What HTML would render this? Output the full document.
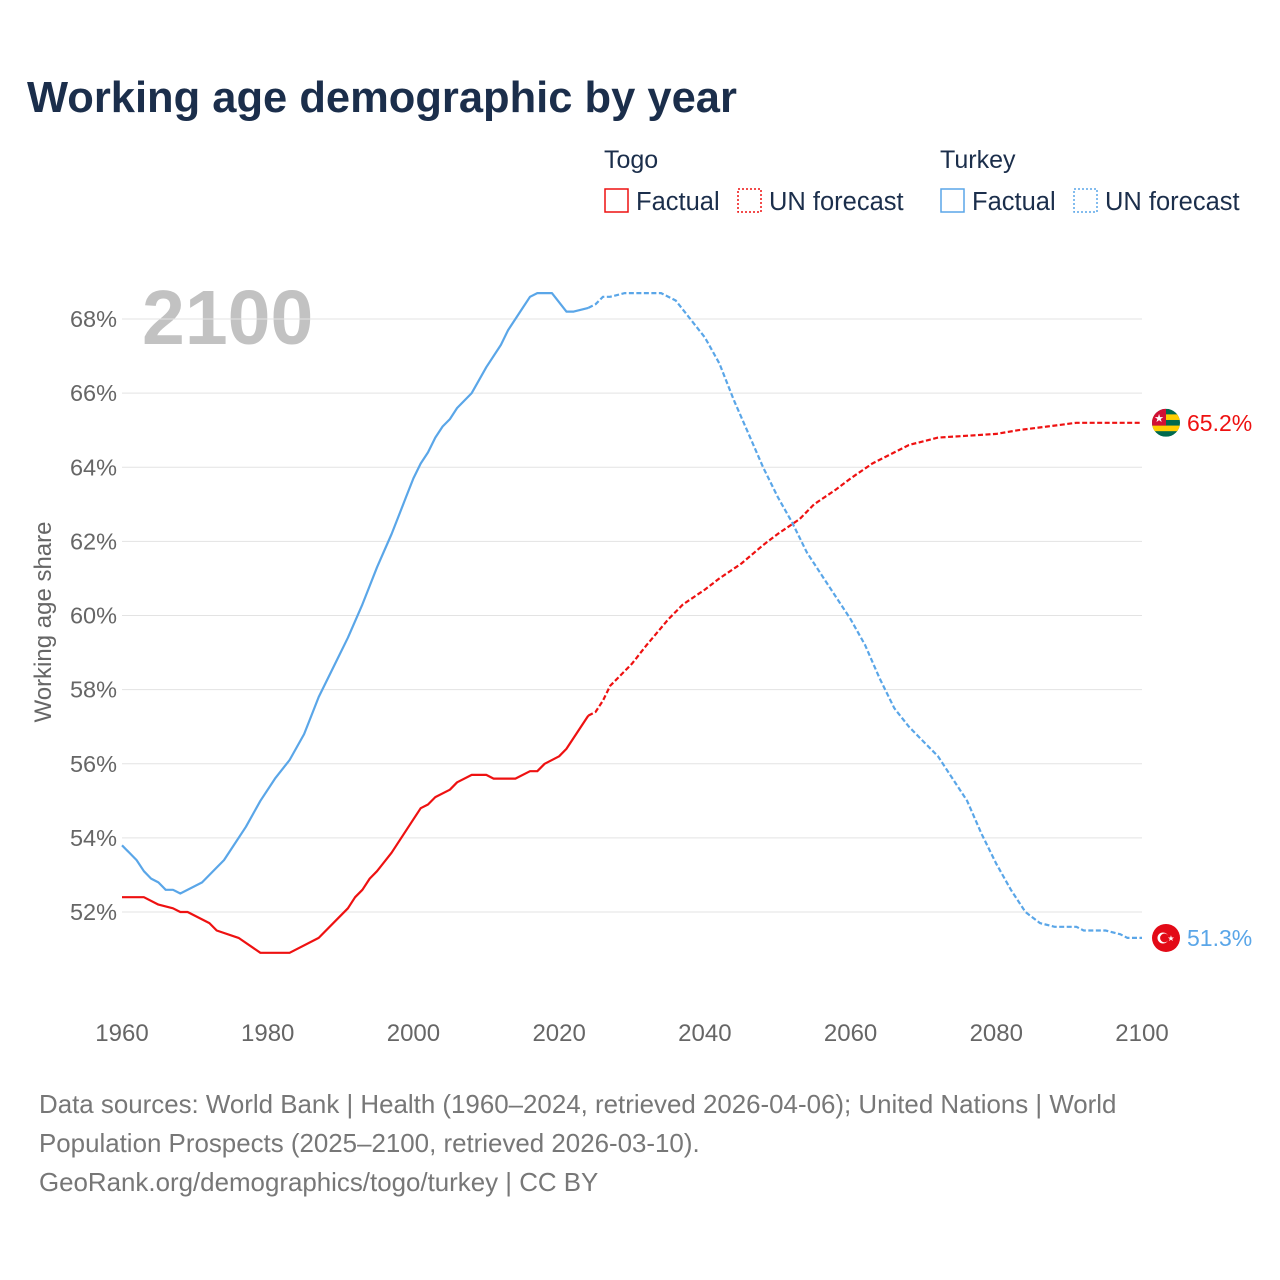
<!DOCTYPE html>
<html><head><meta charset="utf-8">
<style>
body{margin:0;background:#fff;font-family:"Liberation Sans",sans-serif;}
#wrap{position:relative;width:1280px;height:1280px;overflow:hidden;}
</style></head>
<body>
<div id="wrap">
<svg id="chart" width="1280" height="1280">
<text x="27" y="112" font-size="43.5" font-weight="bold" fill="#1b2e4b">Working age demographic by year</text>
<g>
<text x="604" y="168" font-size="25" fill="#1b2e4b">Togo</text>
<rect x="605" y="189" width="23" height="23" fill="none" stroke="#ee1111" stroke-width="1.5"/>
<text x="636" y="210" font-size="25.5" fill="#1b2e4b">Factual</text>
<rect x="738" y="189" width="23" height="23" fill="none" stroke="#ee1111" stroke-width="1.5" stroke-dasharray="2,2"/>
<text x="769" y="210" font-size="25.5" fill="#1b2e4b">UN forecast</text>
<text x="940" y="168" font-size="25" fill="#1b2e4b">Turkey</text>
<rect x="941" y="189" width="23" height="23" fill="none" stroke="#5aa6e8" stroke-width="1.5"/>
<text x="972" y="210" font-size="25.5" fill="#1b2e4b">Factual</text>
<rect x="1074" y="189" width="23" height="23" fill="none" stroke="#5aa6e8" stroke-width="1.5" stroke-dasharray="2,2"/>
<text x="1105" y="210" font-size="25.5" fill="#1b2e4b">UN forecast</text>
</g>
<text x="142" y="344" font-size="77" font-weight="bold" fill="#c2c2c2">2100</text>
<text transform="translate(51,622) rotate(-90)" text-anchor="middle" font-size="24" fill="#666">Working age share</text>
<g id="grid"></g><g id="xt"></g><g id="lines"></g><g id="ends"></g>
<g font-size="25.9" fill="#777">
<text x="39" y="1113">Data sources: World Bank | Health (1960–2024, retrieved 2026-04-06); United Nations | World</text>
<text x="39" y="1152">Population Prospects (2025–2100, retrieved 2026-03-10).</text>
<text x="39" y="1191">GeoRank.org/demographics/togo/turkey | CC BY</text>
</g>
</svg>
</div>
<script>
const yTicks=[52,54,56,58,60,62,64,66,68];
const xTicks=[1960,1980,2000,2020,2040,2060,2080,2100];
const togoYears=[1960,1963,1965,1967,1968,1969,1972,1973,1976,1979,1983,1987,1990,1991,1992,1993,1994,1995,1997,2000,2001,2002,2003,2005,2006,2008,2010,2011,2014,2016,2017,2018,2020,2021,2024,2025,2026,2027,2030,2032,2035,2037,2040,2042,2045,2048,2050,2053,2055,2058,2060,2063,2066,2068,2070,2072,2080,2083,2087,2091,2100];
const togoVals=[52.4,52.4,52.2,52.1,52.0,52.0,51.7,51.5,51.3,50.9,50.9,51.3,51.9,52.1,52.4,52.6,52.9,53.1,53.6,54.5,54.8,54.9,55.1,55.3,55.5,55.7,55.7,55.6,55.6,55.8,55.8,56.0,56.2,56.4,57.3,57.4,57.7,58.1,58.7,59.2,59.9,60.3,60.7,61.0,61.4,61.9,62.2,62.6,63.0,63.4,63.7,64.1,64.4,64.6,64.7,64.8,64.9,65.0,65.1,65.2,65.2];
const turYears=[1960,1962,1963,1964,1965,1966,1967,1968,1971,1973,1974,1975,1977,1979,1981,1983,1985,1986,1987,1989,1991,1993,1994,1995,1997,1998,1999,2000,2001,2002,2003,2004,2005,2006,2008,2010,2012,2013,2015,2016,2017,2019,2021,2022,2024,2025,2026,2027,2029,2034,2036,2038,2040,2042,2044,2046,2048,2050,2052,2054,2056,2058,2060,2062,2064,2066,2068,2070,2072,2073,2076,2078,2080,2082,2084,2086,2088,2091,2092,2095,2097,2098,2100];
const turVals=[53.8,53.4,53.1,52.9,52.8,52.6,52.6,52.5,52.8,53.2,53.4,53.7,54.3,55.0,55.6,56.1,56.8,57.3,57.8,58.6,59.4,60.3,60.8,61.3,62.2,62.7,63.2,63.7,64.1,64.4,64.8,65.1,65.3,65.6,66.0,66.7,67.3,67.7,68.3,68.6,68.7,68.7,68.2,68.2,68.3,68.4,68.6,68.6,68.7,68.7,68.5,68.0,67.5,66.8,65.8,64.9,64.0,63.2,62.5,61.7,61.1,60.5,59.9,59.2,58.3,57.5,57.0,56.6,56.2,55.9,55.0,54.1,53.3,52.6,52.0,51.7,51.6,51.6,51.5,51.5,51.4,51.3,51.3];
const lastFactual=2024;
const NS='http://www.w3.org/2000/svg';
const X=y=>122+(y-1960)*(1020/140);
const Y=v=>912-(v-52)*(593/16);
function mk(tag,attrs,parent){const e=document.createElementNS(NS,tag);for(const k in attrs)e.setAttribute(k,attrs[k]);document.getElementById(parent).appendChild(e);return e;}
yTicks.forEach(t=>{
 const l=mk('line',{x1:122,x2:1142,y1:Y(t),y2:Y(t),stroke:'#e3e3e3','stroke-width':1},'grid');
 
 
 const tx=mk('text',{x:117,y:Y(t)+8,'text-anchor':'end','font-size':23.5,fill:'#666'},'grid');
 tx.textContent=t+'%';
 
 
});
xTicks.forEach(t=>{
 const tx=mk('text',{x:X(t),y:1041,'text-anchor':'middle','font-size':24,fill:'#666'},'xt');
 tx.textContent=t;
 
 
});
function draw(years,vals,color,name){
 const f=[],g=[];
 years.forEach((yr,i)=>{const p=X(yr).toFixed(1)+','+Y(vals[i]).toFixed(1);if(yr<=lastFactual)f.push(p);if(yr>=lastFactual)g.push(p);});
 const a=mk('polyline',{points:f.join(' '),fill:'none',stroke:color,'stroke-width':2.2,'stroke-linejoin':'round'},'lines');
 
 
 const b=mk('polyline',{points:g.join(' '),fill:'none',stroke:color,'stroke-width':2.2,'stroke-dasharray':'5,2.5'},'lines');
 
 
 const lv=vals[vals.length-1];
 const t=mk('text',{x:1187,y:Y(lv)+8,'font-size':23,fill:color},'ends');
 t.textContent=lv.toFixed(1)+'%';
 
 
 return Y(lv);
}
const ty=draw(togoYears,togoVals,'#ee1111','togo');
const uy=draw(turYears,turVals,'#5aa6e8','turkey');
let g=mk('g',{},'ends');


g.innerHTML='<clipPath id="cT"><circle cx="1166" cy="'+ty+'" r="14"/></clipPath><g clip-path="url(#cT)"><rect x="1152" y="'+(ty-14)+'" width="28" height="28" fill="#006a4e"/><rect x="1152" y="'+(ty-8.4)+'" width="28" height="5.6" fill="#ffce00"/><rect x="1152" y="'+(ty+2.8)+'" width="28" height="5.6" fill="#ffce00"/><rect x="1152" y="'+(ty-14)+'" width="14" height="16.8" fill="#d21034"/><text x="1159" y="'+(ty-1)+'" font-size="11" fill="#fff" text-anchor="middle">★</text></g>';
g=mk('g',{},'ends');


g.innerHTML='<circle cx="1166" cy="'+uy+'" r="14" fill="#e30a17"/><circle cx="1163" cy="'+uy+'" r="5.5" fill="#fff"/><circle cx="1164.5" cy="'+uy+'" r="4.4" fill="#e30a17"/><text x="1171" y="'+(uy+3)+'" font-size="8" fill="#fff" text-anchor="middle">★</text>';
</script>
</body></html>
